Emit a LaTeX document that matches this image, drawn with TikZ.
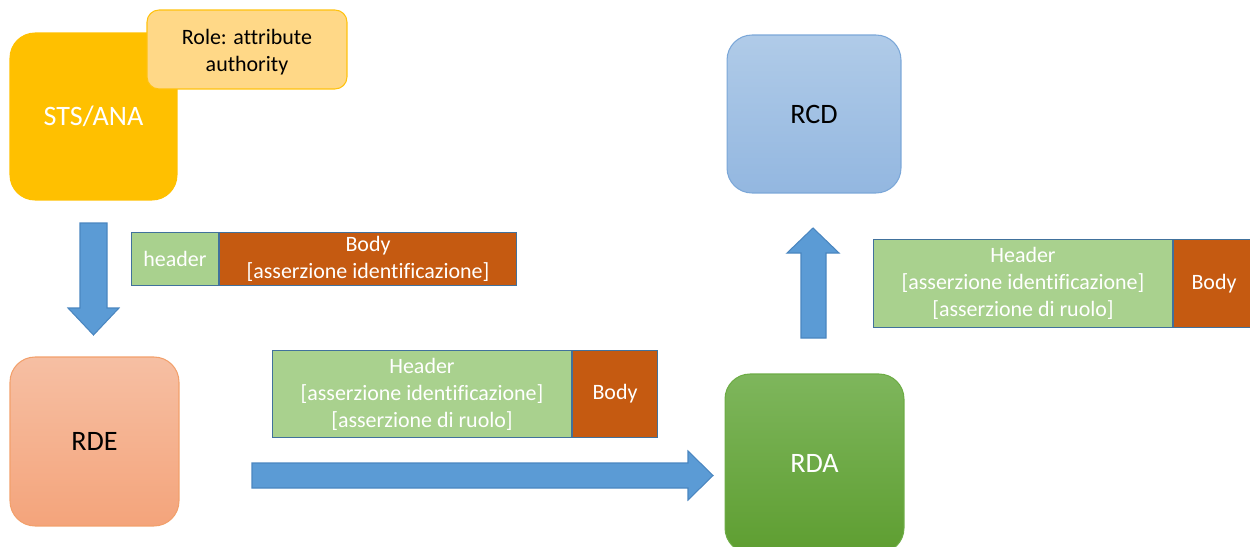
\documentclass[tikz,border=0pt]{standalone}
\usepackage{fontspec}
\setmainfont[Ligatures=NoCommon]{Carlito}
\definecolor{stsgold}{HTML}{FFC000}
\definecolor{rolefill}{HTML}{FFD887}
\definecolor{roleedge}{HTML}{FFC20E}
\definecolor{rcdtop}{HTML}{B0CBE8}
\definecolor{rcdbot}{HTML}{93B7E0}
\definecolor{rcdedge}{HTML}{7BA7D8}
\definecolor{rdetop}{HTML}{F6BFA3}
\definecolor{rdebot}{HTML}{F4A47B}
\definecolor{rdeedge}{HTML}{F2A06B}
\definecolor{rdatop}{HTML}{7EB65C}
\definecolor{rdabot}{HTML}{5E9E31}
\definecolor{rdaedge}{HTML}{6DAC45}
\definecolor{hdrgreen}{HTML}{A9D18E}
\definecolor{bodyorange}{HTML}{C55A11}
\definecolor{msgline}{HTML}{41719C}
\definecolor{arrowblue}{HTML}{5B9BD5}
\definecolor{arrowedge}{HTML}{4A86C0}
\tikzset{
  bigtext/.style={font=\fontsize{16}{19}\selectfont},
  smalltext/.style={font=\fontsize{12.5}{15.3}\selectfont, align=center},
  entity/.style={rounded corners=0.5cm, line width=0.6pt, inner sep=0pt, bigtext},
  part/.style={draw=msgline, line width=0.6pt, inner sep=0pt, smalltext, text=white, anchor=north west},
  blockarrow/.style={fill=arrowblue, draw=arrowedge, line width=0.6pt},
}
\begin{document}
\begin{tikzpicture}[x=0.02cm, y=-0.02cm]
\useasboundingbox (0,0) rectangle (1250,547);
\clip (0,0) rectangle (1250,547);

% entities
\node[entity, fill=stsgold, draw=stsgold, text=white,
      minimum width=3.34cm, minimum height=3.34cm] (sts) at (93.5,116.5) {STS/ANA};
\node[rounded corners=0.24cm, line width=0.6pt, fill=rolefill, draw=roleedge,
      minimum width=4cm, minimum height=1.58cm, inner sep=0pt, smalltext] (role) at (247,49.5) {};
\node[smalltext, inner sep=0pt] (roletext) at (247,52) {Role: attribute\\authority};
\node[entity, top color=rcdtop, bottom color=rcdbot, draw=rcdedge,
      minimum width=3.48cm, minimum height=3.16cm] (rcd) at (814,114) {RCD};
\node[entity, top color=rdetop, bottom color=rdebot, draw=rdeedge,
      minimum width=3.38cm, minimum height=3.38cm] (rde) at (94.5,441.5) {RDE};
\node[entity, top color=rdatop, bottom color=rdabot, draw=rdaedge, text=white,
      minimum width=3.58cm, minimum height=3.58cm] (rda) at (814.5,463.5) {RDA};

% message 1
\node[part, fill=hdrgreen, minimum width=1.74cm, minimum height=1.06cm] (h1) at (131,232) {header};
\node[part, fill=bodyorange, minimum width=5.94cm, minimum height=1.06cm] (b1) at (h1.north east)
      {Body\\{[}asserzione identificazione{]}};

% message 2
\node[part, fill=hdrgreen, minimum width=5.98cm, minimum height=1.74cm] (h2) at (272,350)
      {Header\\{[}asserzione identificazione{]}\\{[}asserzione di ruolo{]}};
\node[part, fill=bodyorange, minimum width=1.7cm, minimum height=1.74cm] (b2) at (h2.north east) {Body};

% message 3
\node[part, fill=hdrgreen, minimum width=5.98cm, minimum height=1.76cm] (h3) at (873,239)
      {Header\\{[}asserzione identificazione{]}\\{[}asserzione di ruolo{]}};
\node[part, fill=bodyorange, minimum width=1.62cm, minimum height=1.76cm] (b3) at (h3.north east) {Body};

% block arrows
\filldraw[blockarrow] (80,223) -- (107,223) -- (107,308) -- (119,308) -- (93.5,335)
   -- (68,308) -- (80,308) -- cycle;
\filldraw[blockarrow] (252,463) -- (688,463) -- (688,451) -- (713,475.5) -- (688,500)
   -- (688,488) -- (252,488) -- cycle;
\filldraw[blockarrow] (801,338) -- (801,253) -- (787,253) -- (813,228) -- (839,253)
   -- (826,253) -- (826,338) -- cycle;
\end{tikzpicture}
\end{document}
